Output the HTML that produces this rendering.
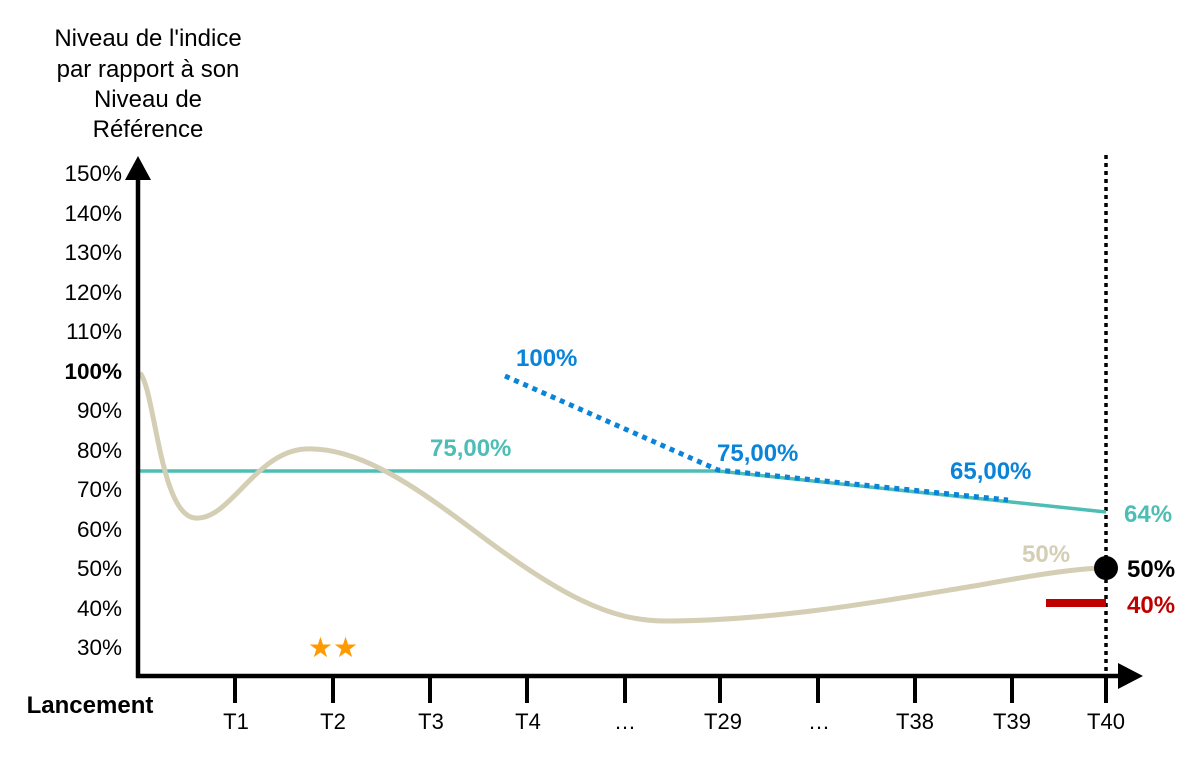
<!DOCTYPE html>
<html><head><meta charset="utf-8"><style>
html,body{margin:0;padding:0;background:#fff;}
svg{display:block;font-family:"Liberation Sans",sans-serif;}
</style></head><body>
<svg width="1200" height="762" viewBox="0 0 1200 762">
<g font-size="24" fill="#000" text-anchor="middle">
<text x="148" y="46">Niveau de l'indice</text>
<text x="148" y="77">par rapport à son</text>
<text x="148" y="107">Niveau de</text>
<text x="148" y="137">Référence</text>
</g>
<g font-size="22.5" fill="#000" text-anchor="end">
<text x="122" y="181">150%</text>
<text x="122" y="221">140%</text>
<text x="122" y="260">130%</text>
<text x="122" y="300">120%</text>
<text x="122" y="339">110%</text>
<text x="122" y="379" font-weight="bold">100%</text>
<text x="122" y="418">90%</text>
<text x="122" y="458">80%</text>
<text x="122" y="497">70%</text>
<text x="122" y="537">60%</text>
<text x="122" y="576">50%</text>
<text x="122" y="616">40%</text>
<text x="122" y="655">30%</text>
</g>
<line x1="1106" y1="155" x2="1106" y2="676" stroke="#000" stroke-width="3.5" stroke-dasharray="4,4"/>
<polyline points="140,471 718,471 1106,512" fill="none" stroke="#4dbdb5" stroke-width="3.5"/>
<path d="M140,373 C155,390 160,515 195,518 C230,521 255,452 305,449 C360,446 420,490 480,535 C560,595 610,621 665,621 C780,621 900,598 980,585 C1040,574 1080,568 1106,568" fill="none" stroke="#d4ceb4" stroke-width="5"/>
<polyline points="505,376 718,470 1008,500" fill="none" stroke="#0a84d8" stroke-width="5" stroke-dasharray="5,5"/>
<line x1="138" y1="176" x2="138" y2="678" stroke="#000" stroke-width="4.5"/>
<polygon points="138,156 125,180 151,180" fill="#000"/>
<line x1="136" y1="676" x2="1122" y2="676" stroke="#000" stroke-width="4.5"/>
<polygon points="1143,676 1118,663 1118,689" fill="#000"/>
<g stroke="#000" stroke-width="4">
<line x1="235" y1="676" x2="235" y2="703"/><line x1="333" y1="676" x2="333" y2="703"/>
<line x1="430" y1="676" x2="430" y2="703"/><line x1="527" y1="676" x2="527" y2="703"/>
<line x1="625" y1="676" x2="625" y2="703"/><line x1="720" y1="676" x2="720" y2="703"/>
<line x1="818" y1="676" x2="818" y2="703"/><line x1="915" y1="676" x2="915" y2="703"/>
<line x1="1012" y1="676" x2="1012" y2="703"/><line x1="1106" y1="676" x2="1106" y2="703"/>
</g>
<g font-size="22" fill="#000" text-anchor="middle">
<text x="236" y="729">T1</text><text x="333" y="729">T2</text><text x="431" y="729">T3</text>
<text x="528" y="729">T4</text><text x="625" y="729">…</text><text x="723" y="729">T29</text>
<text x="819" y="729">…</text><text x="915" y="729">T38</text><text x="1012" y="729">T39</text>
<text x="1106" y="729">T40</text>
</g>
<text x="90" y="713" font-size="24" font-weight="bold" text-anchor="middle">Lancement</text>
<g font-size="24" font-weight="bold">
<text x="430" y="456" fill="#4dbdb5">75,00%</text>
<text x="516" y="366" fill="#0a84d8">100%</text>
<text x="717" y="461" fill="#0a84d8">75,00%</text>
<text x="950" y="479" fill="#0a84d8">65,00%</text>
<text x="1124" y="522" fill="#4dbdb5">64%</text>
<text x="1022" y="562" fill="#d4ceb4">50%</text>
<text x="1127" y="577" fill="#000">50%</text>
<text x="1127" y="613" fill="#c00000">40%</text>
</g>
<circle cx="1106" cy="568" r="12" fill="#000"/>
<line x1="1046" y1="603" x2="1106" y2="603" stroke="#c00000" stroke-width="8"/>
<text x="333" y="657" font-size="28" fill="#ff9a00" text-anchor="middle">★★</text>
</svg>
</body></html>
